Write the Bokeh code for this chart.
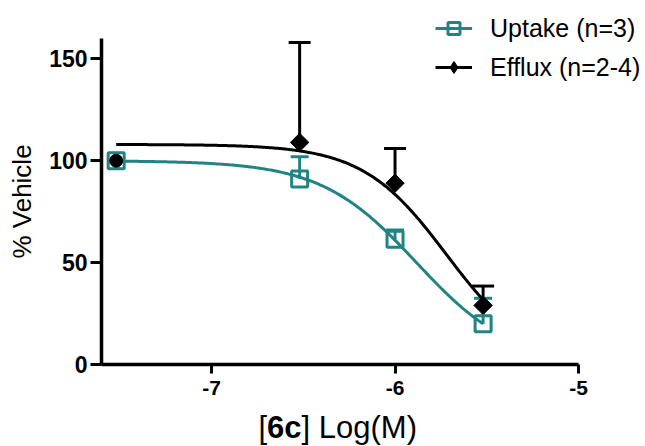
import numpy as np
from bokeh.plotting import figure
from bokeh.models import (ColumnDataSource, Whisker, TeeHead, Legend, LegendItem,
                          Label, Range1d, FixedTicker)
from bokeh.embed import file_html
from bokeh.resources import INLINE

# ---- data ----
log_conc = [-7.52, -6.52, -6.0, -5.52]
uptake_mean = [100.0, 91.0, 61.5, 20.0]
uptake_sem = [0.0, 11.0, 4.5, 12.5]
efflux_mean = [100.0, 109.0, 89.0, 29.0]
efflux_sem = [0.0, 49.0, 17.0, 9.5]

# fitted dose-response (4PL) parameters
uptake_fit = dict(top=100.0, bottom=0.0, log_ic50=-5.883, hill=1.66)
efflux_fit = dict(top=108.0, bottom=0.0, log_ic50=-5.72, hill=1.9)

x_ticks = [-7, -6, -5]
y_ticks = [0, 50, 100, 150]
x_axis_span = (-7.6, -5.0)
y_axis_span = (0.0, 160.0)
legend_labels = ["Uptake (n=3)", "Efflux (n=2-4)"]
y_label = "% Vehicle"
x_label_parts = ["[", "6c", "] Log(M)"]

TEAL = "#218383"
FONT = "Liberation Sans"

W, H = 645, 446
# pixel placement of the axes box inside the canvas
AX_L, AX_R, AX_T, AX_B = 101, 578, 38, 364


def four_pl(x, top, bottom, log_ic50, hill):
    return bottom + (top - bottom) / (1.0 + 10.0 ** ((x - log_ic50) * hill))


# ranges extended so that the whole canvas is the frame (nothing gets clipped)
xpx = (x_axis_span[1] - x_axis_span[0]) / (AX_R - AX_L)
ypx = (y_axis_span[1] - y_axis_span[0]) / (AX_B - AX_T)
x_range = Range1d(x_axis_span[0] - AX_L * xpx, x_axis_span[1] + (W - AX_R) * xpx)
y_range = Range1d(y_axis_span[0] - (H - AX_B) * ypx, y_axis_span[1] + AX_T * ypx)

p = figure(frame_width=W, frame_height=H,
           min_border_left=0, min_border_right=0,
           min_border_top=0, min_border_bottom=0,
           x_range=x_range, y_range=y_range,
           output_backend="svg", toolbar_location=None)
p.xgrid.visible = False
p.ygrid.visible = False
p.outline_line_color = None
p.background_fill_color = "white"
p.border_fill_color = "white"

for ax in (p.xaxis[0], p.yaxis[0]):
    ax.axis_line_width = 3.5
    ax.axis_line_color = "black"
    ax.major_tick_line_width = 3
    ax.major_tick_line_color = "black"
    ax.minor_tick_line_color = None
    ax.major_tick_in = 0
    ax.major_label_text_font = FONT
    ax.major_label_text_font_style = "bold"
    ax.major_label_text_color = "black"

p.xaxis.fixed_location = y_axis_span[0]
p.yaxis.fixed_location = x_axis_span[0]
p.xaxis.bounds = x_axis_span
p.yaxis.bounds = y_axis_span
p.yaxis.ticker = FixedTicker(ticks=y_ticks)
p.xaxis.ticker = FixedTicker(ticks=x_ticks)
p.xaxis.major_label_overrides = {t: str(t) for t in x_ticks}
p.yaxis.major_tick_out = 11
p.xaxis.major_tick_out = 9
p.yaxis.major_label_text_font_size = "23px"
p.xaxis.major_label_text_font_size = "21px"
p.yaxis.major_label_standoff = 3
p.xaxis.major_label_standoff = 7

p.yaxis.axis_label = y_label
p.yaxis.axis_label_text_font = FONT
p.yaxis.axis_label_text_font_style = "normal"
p.yaxis.axis_label_text_font_size = "26px"
p.yaxis.axis_label_text_color = "black"
p.yaxis.axis_label_standoff = 9

# ---- curves ----
cx = np.linspace(log_conc[0], log_conc[-1], 300)
e_line = p.line(cx, four_pl(cx, **efflux_fit), line_color="black", line_width=3)

# efflux error bars and markers
e_src = ColumnDataSource(dict(
    x=log_conc[1:], y=efflux_mean[1:],
    upper=[m + s for m, s in zip(efflux_mean[1:], efflux_sem[1:])]))
p.add_layout(Whisker(source=e_src, base="x", lower="y", upper="upper",
                     lower_head=None,
                     upper_head=TeeHead(size=22, line_width=3, line_color="black"),
                     line_width=3, line_color="black"))
# small diamonds (covered by the rotated squares) provide the legend glyph
e_leg = p.scatter("x", "y", source=e_src, marker="diamond", size=11,
                  fill_color="black", line_color="black", line_width=1)
p.scatter("x", "y", source=e_src, marker="square", angle=np.pi / 4,
          size=13, fill_color="black", line_color="black", line_width=1)

u_line = p.line(cx, four_pl(cx, **uptake_fit), line_color=TEAL, line_width=3)
u_src = ColumnDataSource(dict(x=log_conc, y=uptake_mean))
u_err_src = ColumnDataSource(dict(
    x=log_conc[1:], y=uptake_mean[1:],
    upper=[m + s for m, s in zip(uptake_mean[1:], uptake_sem[1:])]))
p.add_layout(Whisker(source=u_err_src, base="x", lower="y", upper="upper",
                     lower_head=None,
                     upper_head=TeeHead(size=18, line_width=3, line_color=TEAL),
                     line_width=3, line_color=TEAL))
u_pts = p.scatter("x", "y", source=u_src, marker="square", size=16,
                  fill_color=None, line_color=TEAL, line_width=3)

# first efflux point (drawn as a dot inside the uptake square)
p.scatter([log_conc[0]], [efflux_mean[0]], marker="circle", size=13,
          fill_color="black", line_color="black")

# ---- legend ----
legend = Legend(items=[LegendItem(label=legend_labels[0], renderers=[u_line, u_pts]),
                       LegendItem(label=legend_labels[1], renderers=[e_line, e_leg])],
                location=(435, H - 82))
legend.label_text_font = FONT
legend.label_text_font_size = "25px"
legend.label_text_color = "black"
legend.glyph_width = 37
legend.glyph_height = 30
legend.label_height = 30
legend.label_standoff = 18
legend.spacing = 9
legend.padding = 0
legend.margin = 0
legend.border_line_color = None
legend.background_fill_alpha = 0
p.add_layout(legend)

# ---- x axis title with bold compound name ----
fs = 31
x0 = 258
y0 = H - 409
common = dict(y=y0, x_units="screen", y_units="screen", text_font=FONT,
              text_font_size=f"{fs}px", text_color="black", text_baseline="top")
p.add_layout(Label(x=x0, text=x_label_parts[0], **common))
p.add_layout(Label(x=x0 + 0.278 * fs, text=x_label_parts[1], text_font_style="bold", **common))
p.add_layout(Label(x=x0 + (0.278 + 1.112) * fs, text=x_label_parts[2], **common))

open("out.html", "w").write(file_html(p, INLINE))
